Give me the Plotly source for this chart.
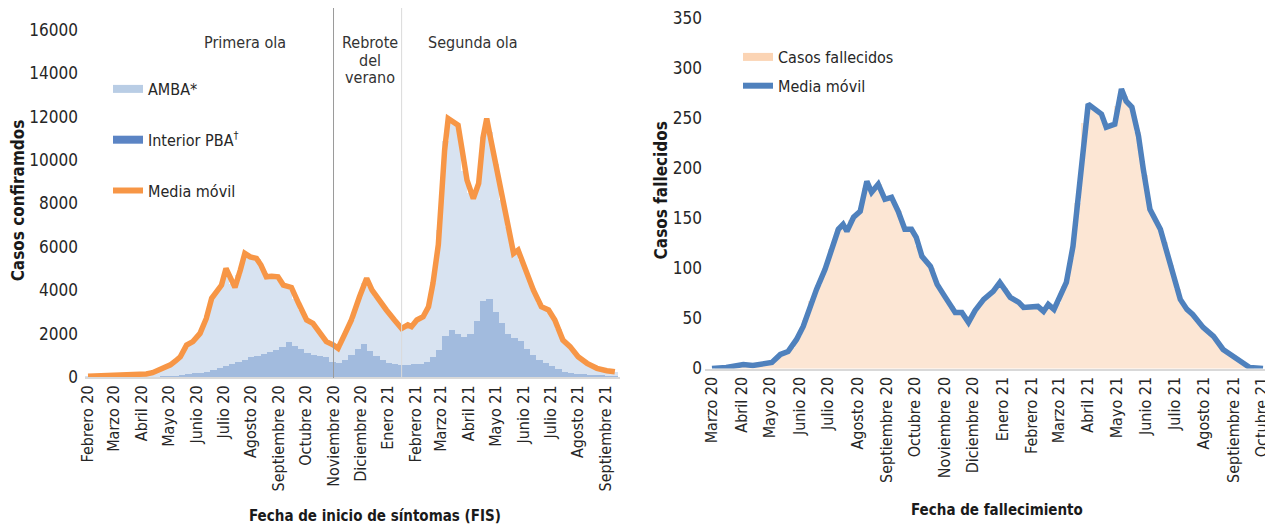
import pandas as pd
import plotly.graph_objects as go

# The page adds an 8 px body margin: the figure is sized to the visible area
OFF = 8
W, H = 1273 - OFF, 527 - OFF

# ---------------- Left chart data (casos confirmados) ----------------
left_month_labels = ["Febrero 20", "Marzo 20", "Abril 20", "Mayo 20", "Junio 20", "Julio 20",
                     "Agosto 20", "Septiembre 20", "Octubre 20", "Noviembre 20", "Diciembre 20",
                     "Enero 21", "Febrero 21", "Marzo 21", "Abril 21", "Mayo 21", "Junio 21",
                     "Julio 21", "Agosto 21", "Septiembre 21"]
left_month_ticks = pd.date_range("2020-02-01", periods=len(left_month_labels), freq="MS")
left_y_ticks = [0, 2000, 4000, 6000, 8000, 10000, 12000, 14000, 16000]

left_week_dates = pd.date_range("2020-02-01", periods=85, freq="7D")
interior_pba = [0, 0, 0, 0, 0, 0, 0, 0, 0, 10,
                15, 20, 30, 40, 60, 100, 130, 170, 200, 250,
                300, 400, 500, 600, 700, 800, 900, 950, 1050, 1150,
                1250, 1400, 1600, 1450, 1300, 1100, 1000, 950, 900, 700,
                650, 800, 1000, 1300, 1500, 1200, 950, 780, 650, 580,
                550, 550, 580, 620, 700, 900, 1250, 1900, 2150, 2000,
                1860, 2000, 2600, 3500, 3600, 3000, 2500, 2000, 1800, 1650,
                1300, 1000, 800, 650, 500, 350, 250, 200, 150, 120,
                100, 80, 70, 60, 50]
amba = [30, 40, 50, 60, 70, 75, 80, 95, 115, 125,
        165, 280, 380, 500, 690, 950, 1390, 1530, 1900, 2600,
        3450, 3750, 4500, 3700, 4000, 4900, 4630, 4470, 3850, 3490,
        3370, 2900, 2550, 2150, 1800, 1500, 1450, 1060, 730, 780,
        750, 1210, 1630, 2200, 2850, 2950, 2750, 2520, 2300, 2020,
        1690, 1850, 1920, 2080, 2400, 3420, 5550, 9000, 9650, 9610,
        7640, 6500, 6100, 7570, 7700, 6800, 5660, 4930, 3950, 3750,
        3450, 3010, 2600, 2470, 2350, 1850, 1400, 1180, 820, 630,
        460, 340, 260, 220, 190]

ma_left_dates = ["2020-02-01", "2020-02-21", "2020-03-12", "2020-03-27", "2020-04-06", "2020-04-13",
                 "2020-04-19", "2020-04-26", "2020-05-03", "2020-05-09", "2020-05-14", "2020-05-21",
                 "2020-05-28", "2020-06-05", "2020-06-12", "2020-06-18", "2020-06-23", "2020-06-29",
                 "2020-07-04", "2020-07-09", "2020-07-14", "2020-07-20", "2020-07-25", "2020-07-31",
                 "2020-08-07", "2020-08-12", "2020-08-18", "2020-08-24", "2020-08-31", "2020-09-06",
                 "2020-09-15", "2020-09-23", "2020-10-02", "2020-10-09", "2020-10-17", "2020-10-24",
                 "2020-11-01", "2020-11-06", "2020-11-14", "2020-11-21", "2020-11-30", "2020-12-08",
                 "2020-12-14", "2020-12-23", "2020-12-30", "2021-01-08", "2021-01-16", "2021-01-23",
                 "2021-01-27", "2021-02-02", "2021-02-09", "2021-02-15", "2021-02-20", "2021-02-26",
                 "2021-02-28", "2021-03-03", "2021-03-05", "2021-03-09", "2021-03-14", "2021-03-20",
                 "2021-03-24", "2021-03-30", "2021-04-06", "2021-04-12", "2021-04-17", "2021-04-21",
                 "2021-04-25", "2021-04-30", "2021-05-08", "2021-05-15", "2021-05-21", "2021-05-26",
                 "2021-06-03", "2021-06-12", "2021-06-21", "2021-06-29", "2021-07-06", "2021-07-15",
                 "2021-07-23", "2021-08-01", "2021-08-11", "2021-08-22", "2021-09-02", "2021-09-11"]
ma_left = [30, 60, 80, 110, 140, 200,
           320, 420, 560, 750, 930, 1470,
           1630, 2010, 2700, 3630, 3930, 4240,
           5010, 4500, 4130, 4930, 5700, 5540,
           5470, 5160, 4620, 4650, 4620, 4240,
           4130, 3400, 2630, 2470, 2010, 1630,
           1470, 1320, 2010, 2630, 3700, 4550,
           4010, 3470, 3090, 2630, 2240, 2400,
           2320, 2630, 2780, 3240, 4320, 6100,
           7400, 9300, 10460, 11920, 11770, 11610,
           10610, 9080, 8230, 8930, 11070, 11920,
           11070, 10000, 8160, 6930, 5700, 5850,
           4930, 4010, 3240, 3090, 2630, 1700,
           1400, 930, 630, 400, 290, 240]

left_periods = ["Primera ola", "Rebrote<br>del<br>verano", "Segunda ola"]
left_period_dates = ["2020-07-25", "2020-12-12", "2021-04-06"]
left_dividers = ["2020-11-01", "2021-01-16"]

# ---------------- Right chart data (fallecidos) ----------------
right_month_labels = ["Marzo 20", "Abril 20", "Mayo 20", "Junio 20", "Julio 20", "Agosto 20",
                      "Septiembre 20", "Octubre 20", "Noviembre 20", "Diciembre 20", "Enero 21",
                      "Febrero 21", "Marzo 21", "Abril 21", "Mayo 21", "Junio 21", "Julio 21",
                      "Agosto 21", "Septiembre 21", "Octubre 21"]
right_month_ticks = pd.date_range("2020-03-01", periods=len(right_month_labels), freq="MS")
right_y_ticks = [0, 50, 100, 150, 200, 250, 300, 350]

right_week_dates = pd.date_range("2020-03-01", periods=84, freq="7D")
fallecidos = [0, 1, 1, 2, 4, 4, 3, 4, 5, 6,
              12, 16, 20, 32, 48, 67, 83, 99, 119, 139,
              140, 148, 156, 180, 177, 184, 170, 170, 157, 140,
              138, 122, 108, 100, 83, 72, 62, 56, 52, 52,
              62, 70, 76, 84, 80, 70, 66, 61, 61, 62,
              58, 62, 65, 82, 110, 165, 245, 262, 257, 246,
              242, 262, 272, 262, 236, 193, 156, 144, 126, 103,
              79, 62, 55, 47, 40, 34, 26, 18, 14, 9,
              5, 1, 0, 0]

ma_right_dates = ["2020-03-01", "2020-03-16", "2020-04-03", "2020-04-13", "2020-05-03", "2020-05-12",
                  "2020-05-20", "2020-05-29", "2020-06-05", "2020-06-12", "2020-06-19", "2020-06-28",
                  "2020-07-05", "2020-07-12", "2020-07-17", "2020-07-21", "2020-07-28", "2020-08-04",
                  "2020-08-11", "2020-08-16", "2020-08-23", "2020-08-30", "2020-09-06", "2020-09-13",
                  "2020-09-20", "2020-09-27", "2020-10-02", "2020-10-08", "2020-10-17", "2020-10-24",
                  "2020-11-01", "2020-11-12", "2020-11-19", "2020-11-26", "2020-12-03", "2020-12-12",
                  "2020-12-22", "2020-12-29", "2021-01-09", "2021-01-18", "2021-01-23", "2021-02-01",
                  "2021-02-07", "2021-02-13", "2021-02-18", "2021-02-24", "2021-03-02", "2021-03-09",
                  "2021-03-16", "2021-03-23", "2021-04-01", "2021-04-08", "2021-04-15", "2021-04-20",
                  "2021-04-29", "2021-05-06", "2021-05-11", "2021-05-17", "2021-05-24", "2021-05-29",
                  "2021-06-05", "2021-06-16", "2021-06-26", "2021-07-07", "2021-07-14", "2021-07-20",
                  "2021-07-31", "2021-08-11", "2021-08-21", "2021-09-01", "2021-09-11", "2021-09-18",
                  "2021-10-02"]
ma_right = [0, 1, 4, 3, 6, 14,
            17, 29, 42, 62, 79, 99,
            119, 139, 144, 137, 151, 157,
            187, 176, 184, 169, 171, 157,
            139, 139, 131, 112, 102, 84,
            72, 56, 56, 46, 58, 69,
            77, 86, 71, 66, 61, 61,
            62, 57, 64, 59, 72, 86,
            122, 182, 264, 259, 254, 241,
            244, 279, 267, 261, 232, 199,
            159, 139, 106, 69, 59, 54,
            41, 32, 19, 12, 6, 1,
            0]

# ---------------- Styling ----------------
FONT = "Liberation Sans Narrow, Arial Narrow, DejaVu Sans Condensed, Roboto, sans-serif"
TXT = "#262626"
C_AMBA, C_AMBA_KEY = "#d8e3f1", "#b9cde5"
C_INT, C_INT_KEY = "#a2bbde", "#5b84c4"
C_ORANGE = "#f79646"
C_DEATH, C_DEATH_KEY = "#fce6d4", "#fbd4b4"
C_BLUE = "#4f81bd"


def px_x(p):
    """screen pixel (reference) -> paper fraction"""
    return (p - OFF) / W


def px_y(p):
    return 1 - (p - OFF) / H


fig = go.Figure()

# Left bars (stacked: Interior at bottom, AMBA on top)
fig.add_trace(go.Bar(x=left_week_dates, y=interior_pba, marker_color=C_INT, marker_line_width=0,
                     showlegend=False, xaxis="x", yaxis="y", name="Interior PBA"))
fig.add_trace(go.Bar(x=left_week_dates, y=amba, marker_color=C_AMBA, marker_line_width=0,
                     showlegend=False, xaxis="x", yaxis="y", name="AMBA"))
fig.add_trace(go.Scatter(x=ma_left_dates, y=ma_left, mode="lines", showlegend=False,
                         line=dict(color=C_ORANGE, width=5.5), xaxis="x", yaxis="y", name="Media móvil"))

# Left legend keys
for i, (nm, col, w) in enumerate([("AMBA*", C_AMBA_KEY, 8), ("Interior PBA<sup>†</sup>", C_INT_KEY, 8),
                                  ("Media móvil", C_ORANGE, 6)]):
    fig.add_trace(go.Scatter(x=[None], y=[None], mode="lines", name=nm, legend="legend",
                             legendgroup=f"l{i}", line=dict(color=col, width=w), xaxis="x", yaxis="y"))

# Right bars and line
fig.add_trace(go.Bar(x=right_week_dates, y=fallecidos, marker_color=C_DEATH, marker_line_width=0,
                     showlegend=False, xaxis="x2", yaxis="y2", name="Casos fallecidos"))
fig.add_trace(go.Scatter(x=ma_right_dates, y=ma_right, mode="lines", showlegend=False,
                         line=dict(color=C_BLUE, width=5.5), xaxis="x2", yaxis="y2", name="Media móvil"))
for i, (nm, col, w) in enumerate([("Casos fallecidos", C_DEATH_KEY, 8), ("Media móvil", C_BLUE, 6)]):
    fig.add_trace(go.Scatter(x=[None], y=[None], mode="lines", name=nm, legend="legend2",
                             legendgroup=f"r{i}", line=dict(color=col, width=w), xaxis="x2", yaxis="y2"))

# Period labels (multi-line label set with a tight line pitch)
annotations = []
for txt, d in zip(left_periods, left_period_dates):
    lines = txt.split("<br>")
    for j, ln in enumerate(lines):
        annotations.append(dict(x=d, xref="x", y=px_y(43 + 17 * j), yref="paper", text=ln,
                                showarrow=False, xanchor="center", yanchor="middle",
                                font=dict(family=FONT, size=16, color="#333333")))
annotations.append(dict(x=px_x(375), y=px_y(516), xref="paper", yref="paper",
                        xanchor="center", yanchor="middle",
                        text="<b>Fecha de inicio de síntomas (FIS)</b>", showarrow=False,
                        font=dict(family=FONT, size=15, color="#1a1a1a")))
annotations.append(dict(x=px_x(997), y=px_y(510), xref="paper", yref="paper",
                        xanchor="center", yanchor="middle",
                        text="<b>Fecha de fallecimiento</b>", showarrow=False,
                        font=dict(family=FONT, size=15, color="#1a1a1a")))

shapes = [
    dict(type="line", xref="x", yref="paper", x0=left_dividers[0], x1=left_dividers[0],
         y0=px_y(378), y1=px_y(8), line=dict(color="#9a9a9a", width=1)),
    dict(type="line", xref="x", yref="paper", x0=left_dividers[1], x1=left_dividers[1],
         y0=px_y(378), y1=px_y(8), line=dict(color="#dadada", width=1)),
]

tickfont = dict(family=FONT, size=16, color=TXT)
yfont = dict(family=FONT, size=17, color=TXT)

fig.update_layout(
    template="none",
    width=W, height=H, margin=dict(l=0, r=0, t=0, b=0, autoexpand=False),
    paper_bgcolor="white", plot_bgcolor="rgba(0,0,0,0)",
    barmode="stack", bargap=0,
    showlegend=True,
    xaxis=dict(domain=[px_x(85), px_x(620)], type="date", automargin=False,
               range=["2020-01-28 15:00", "2021-09-16 18:00"], ticklabeloverflow="allow",
               tickmode="array", tickvals=left_month_ticks, ticktext=left_month_labels,
               tickangle=-90, tickfont=tickfont, showgrid=False, zeroline=False,
               showline=True, linecolor="#d9d9d9", linewidth=2, ticks="", anchor="y"),
    # 16000 sits at 30 px, 0 at 377 px; range padded slightly above the top tick
    yaxis=dict(domain=[px_y(377), px_y(24)], range=[0, 16276], tickvals=left_y_ticks,
               tickformat="d", automargin=False, ticklabelstandoff=6, ticklabeloverflow="allow",
               tickfont=yfont, showgrid=False, zeroline=False, showline=False, ticks="",
               title=dict(text="<b>Casos confiramdos</b>", font=dict(family=FONT, size=17, color="#1a1a1a"),
                          standoff=0), anchor="x"),
    xaxis2=dict(domain=[px_x(705), px_x(1268)], type="date", automargin=False,
                range=["2020-02-22 15:00", "2021-10-07 07:00"], ticklabeloverflow="allow",
                tickmode="array", tickvals=right_month_ticks, ticktext=right_month_labels,
                tickangle=-90, tickfont=tickfont, showgrid=False, zeroline=False,
                showline=True, linecolor="#d9d9d9", linewidth=2, ticks="", anchor="y2"),
    # 350 sits at 18 px, 0 at 368.5 px; range padded slightly above the top tick
    yaxis2=dict(domain=[px_y(368.5), px_y(12)], range=[0, 356], tickvals=right_y_ticks,
                automargin=False, ticklabelstandoff=2, ticklabeloverflow="allow",
                tickfont=yfont, showgrid=False, zeroline=False, showline=False, ticks="",
                title=dict(text="<b>Casos fallecidos</b>", font=dict(family=FONT, size=17, color="#1a1a1a"),
                           standoff=0), anchor="x2"),
    legend=dict(x=px_x(108), y=px_y(72), xanchor="left", yanchor="top", bgcolor="rgba(0,0,0,0)",
                font=dict(family=FONT, size=16, color=TXT), traceorder="grouped", tracegroupgap=27),
    legend2=dict(x=px_x(738), y=px_y(40), xanchor="left", yanchor="top", bgcolor="rgba(0,0,0,0)",
                 font=dict(family=FONT, size=16, color=TXT), traceorder="grouped", tracegroupgap=5),
    annotations=annotations, shapes=shapes,
)

fig.write_html("out.html")
